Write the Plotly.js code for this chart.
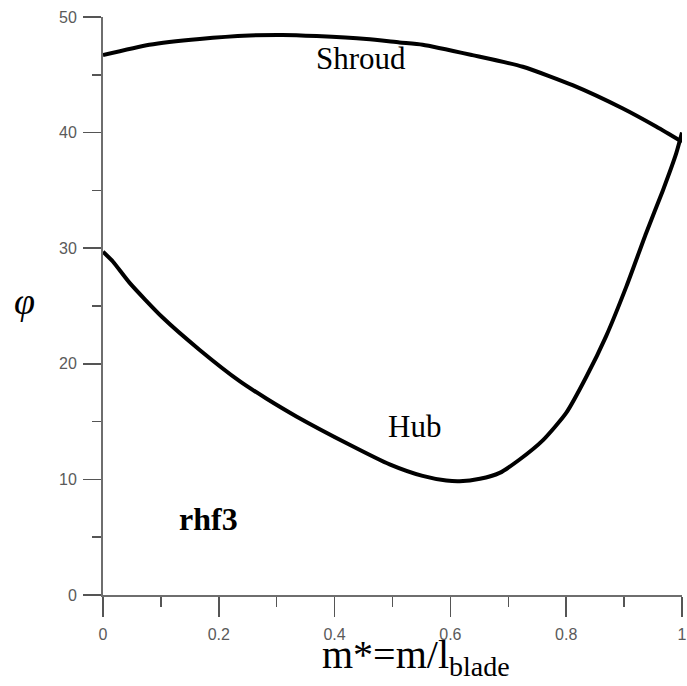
<!DOCTYPE html>
<html>
<head>
<meta charset="utf-8">
<script src="https://cdn.plot.ly/plotly-3.0.1.min.js"></script>
<style>
  html, body { margin: 0; padding: 0; background: #fff; }
  #chart { width: 687px; height: 686px; }
</style>
</head>
<body>
<div id="chart"></div>
<script>
// Blade angle distribution along the normalised meridional length
const shroudM   = [0, 0.080, 0.167, 0.253, 0.310, 0.369, 0.455, 0.512, 0.552, 0.638, 0.725, 0.811, 0.897, 0.956, 1.0];
const shroudPhi = [46.7, 47.6, 48.1, 48.4, 48.45, 48.35, 48.1, 47.8, 47.6, 46.7, 45.7, 44.1, 42.1, 40.5, 39.2];

const hubM   = [0, 0.017, 0.046, 0.103, 0.167, 0.236, 0.282, 0.334, 0.426, 0.495, 0.552, 0.593, 0.616, 0.651, 0.685, 0.719, 0.760, 0.800, 0.835, 0.869, 0.904, 0.938, 0.967, 0.990, 1.0];
const hubPhi = [29.7, 28.85, 27.0, 24.0, 21.2, 18.5, 17.0, 15.45, 13.0, 11.3, 10.3, 9.9, 9.84, 10.05, 10.56, 11.7, 13.4, 15.75, 18.9, 22.4, 26.7, 31.3, 35.0, 38.2, 40.0];

const xTicks = [0, 0.2, 0.4, 0.6, 0.8, 1];
const xTickText = ['0', '0.2', '0.4', '0.6', '0.8', '1'];
const yTicks = [0, 10, 20, 30, 40, 50];
const yTickText = ['0', '10', '20', '30', '40', '50'];

function curveTrace(name, x, y) {
  return {
    x: x, y: y, name: name,
    mode: 'lines',
    line: { color: '#000', width: 4, shape: 'spline', smoothing: 0.6 },
    hoverinfo: 'skip', showlegend: false
  };
}

const traces = [
  curveTrace('Shroud', shroudM, shroudPhi),
  curveTrace('Hub', hubM, hubPhi)
];

const axisCommon = {
  showgrid: false,
  zeroline: false,
  showline: true,
  linecolor: '#6e6e6e',
  linewidth: 2,
  ticks: 'outside',
  tickcolor: '#555',
  tickwidth: 1.5,
  tickfont: { family: 'Liberation Sans, Arial, sans-serif', size: 16, color: '#5a5a5a' },
  fixedrange: true
};

const serif = 'Liberation Serif, Times New Roman, serif';

const layout = {
  width: 687,
  height: 686,
  margin: { l: 103, r: 5, t: 17, b: 91 },
  paper_bgcolor: '#fff',
  plot_bgcolor: '#fff',
  xaxis: Object.assign({}, axisCommon, {
    range: [0, 1],
    tickmode: 'array',
    tickvals: xTicks,
    ticktext: xTickText,
    ticklen: 20,
    ticklabelstandoff: 4,
    minor: { dtick: 0.1, ticks: 'outside', ticklen: 10, tickcolor: '#555', tickwidth: 1.5, showgrid: false }
  }),
  yaxis: Object.assign({}, axisCommon, {
    range: [0, 50],
    tickmode: 'array',
    tickvals: yTicks,
    ticktext: yTickText,
    ticklen: 18,
    ticklabelstandoff: 3,
    minor: { dtick: 5, ticks: 'outside', ticklen: 9, tickcolor: '#555', tickwidth: 1.5, showgrid: false }
  }),
  annotations: [
    // axis titles
    { x: 0.54, y: -0.06, xref: 'paper', yref: 'paper', text: 'm*=m/l<sub>blade</sub>', showarrow: false,
      font: { family: serif, size: 40, color: '#000' }, xanchor: 'center', yanchor: 'top' },
    { x: -0.136, y: 0.509, xref: 'paper', yref: 'paper', text: '<i>φ</i>', showarrow: false,
      font: { family: serif, size: 38, color: '#000' }, xanchor: 'center', yanchor: 'middle' },
    // curve labels
    { x: 0.446, y: 46.4, xref: 'x', yref: 'y', text: 'Shroud', showarrow: false,
      font: { family: serif, size: 31, color: '#000' }, xanchor: 'center', yanchor: 'middle' },
    { x: 0.538, y: 14.6, xref: 'x', yref: 'y', text: 'Hub', showarrow: false,
      font: { family: serif, size: 31, color: '#000' }, xanchor: 'center', yanchor: 'middle' },
    { x: 0.182, y: 6.6, xref: 'x', yref: 'y', text: '<b>rhf3</b>', showarrow: false,
      font: { family: serif, size: 32, color: '#000' }, xanchor: 'center', yanchor: 'middle' }
  ]
};

Plotly.newPlot('chart', traces, layout, { displayModeBar: false, staticPlot: true });
</script>
</body>
</html>
